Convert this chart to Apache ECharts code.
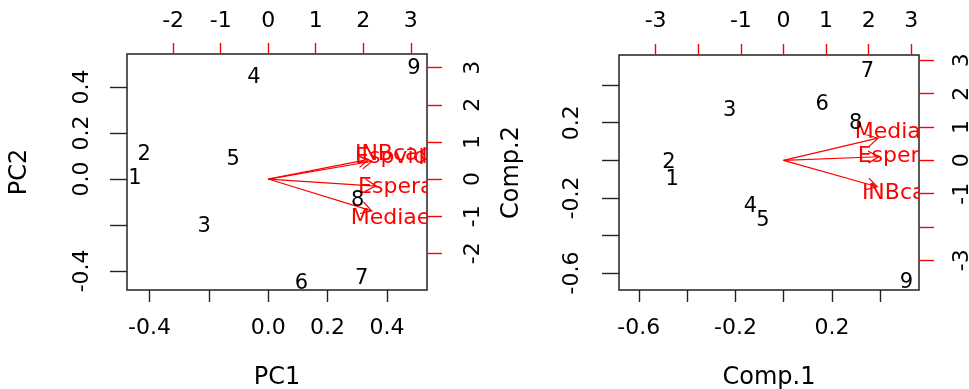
<!DOCTYPE html>
<html>
<head>
<meta charset="utf-8">
<script src="https://cdn.jsdelivr.net/npm/echarts@6/dist/echarts.min.js"></script>
<style>
  html, body { margin: 0; padding: 0; background: #ffffff; }
  #chart { width: 969px; height: 389px; }
</style>
</head>
<body>
<div id="chart"></div>
<script>
// ---- Biplot 1 (prcomp): observation scores ----
const obsLabels = ['1', '2', '3', '4', '5', '6', '7', '8', '9'];
const pc1 = [-0.449, -0.418, -0.216, -0.048, -0.118, 0.112, 0.315, 0.301, 0.491];
const pc2 = [0.000, 0.104, -0.207, 0.442, 0.086, -0.453, -0.432, -0.096, 0.481];

// variable loadings (label positions; arrows go to 0.8 of them)
const pcVars = ['INBcap', 'Espvida', 'Esperad', 'Mediaed'];
const pcLoad1 = [2.64, 2.73, 2.83, 2.72];
const pcLoad2 = [0.66, 0.60, -0.235, -1.07];

// ---- Biplot 2 (princomp) ----
const comp1 = [-0.462, -0.475, -0.224, -0.138, -0.086, 0.159, 0.347, 0.298, 0.508];
const comp2 = [-0.105, -0.011, 0.262, -0.247, -0.318, 0.298, 0.471, 0.197, -0.651];

const compVars = ['Mediaed', 'Esperad', 'INBcap'];
const compLoad1 = [2.77, 2.79, 2.75];
const compLoad2 = [0.83, 0.135, -0.99];

// ---- tick marks and tick labels ----
const pcXTicks = [-0.4, -0.2, 0, 0.2, 0.4];
const pcXLabels = [-0.4, 0, 0.2, 0.4];
const pcYTicks = [-0.4, -0.2, 0, 0.2, 0.4];
const pcYLabels = [-0.4, 0, 0.2, 0.4];
const pcLoadXTicks = [-2, -1, 0, 1, 2, 3];
const pcLoadYTicks = [-2, -1, 0, 1, 2, 3];

const compXTicks = [-0.6, -0.4, -0.2, 0, 0.2, 0.4];
const compXLabels = [-0.6, -0.2, 0.2];
const compYTicks = [-0.6, -0.4, -0.2, 0, 0.2, 0.4];
const compYLabels = [-0.6, -0.2, 0.2];
const compLoadXTicks = [-3, -2, -1, 0, 1, 2, 3];
const compLoadXLabels = [-3, -1, 0, 1, 2, 3];
const compLoadYTicks = [-3, -2, -1, 0, 1, 2, 3];
const compLoadYLabels = [-3, -1, 0, 1, 2, 3];

const FONT = '"DejaVu Sans", sans-serif';
const INK = '#000000';
const BOX = '#222222';
const RED = '#ff0000';
const TICK_TXT = 22;
const PT_TXT = 21;
const VAR_TXT = 22;

const fmt1 = v => (Math.abs(v) < 1e-9 ? 0 : v).toFixed(1);
const fmt0 = v => String(Math.round(v));

function axis(o) {
  const tickColor = o.red ? RED : BOX;
  const a = {
    type: 'value',
    gridIndex: o.grid,
    position: o.position,
    min: o.min,
    max: o.max,
    splitLine: { show: false },
    axisLine: { show: false, onZero: false },
    axisTick: {
      show: true,
      length: o.tickLen,
      customValues: o.ticks,
      lineStyle: { color: tickColor, width: 1.4 }
    },
    axisLabel: {
      show: true,
      customValues: o.labels,
      formatter: o.fmt,
      margin: o.margin,
      rotate: o.rotate || 0,
      fontSize: TICK_TXT,
      fontFamily: FONT,
      color: INK
    }
  };
  if (o.name) {
    a.name = o.name;
    a.nameLocation = 'middle';
    a.nameGap = o.nameGap;
    a.nameMoveOverlap = false;
    if (o.nameRotate !== undefined) a.nameRotate = o.nameRotate;
    a.nameTextStyle = { fontSize: 24, fontFamily: FONT, color: INK };
  }
  return a;
}

function scores(xi, yi, xs, ys) {
  return {
    type: 'scatter',
    xAxisIndex: xi,
    yAxisIndex: yi,
    silent: true,
    symbol: 'circle',
    symbolSize: 1,
    itemStyle: { color: 'rgba(255,255,255,0)', opacity: 1 },
    label: {
      show: true,
      position: 'inside',
      formatter: p => p.name,
      fontSize: PT_TXT,
      fontFamily: FONT,
      color: INK,
      opacity: 1,
      textBorderWidth: 0
    },
    data: obsLabels.map((n, i) => ({ name: n, value: [xs[i], ys[i]] }))
  };
}

function loadings(xi, yi, names, lx, ly) {
  return {
    type: 'custom',
    xAxisIndex: xi,
    yAxisIndex: yi,
    clip: true,
    silent: true,
    data: names.map((n, i) => [lx[i], ly[i]]),
    renderItem(params, api) {
      const x = api.value(0), y = api.value(1);
      const o = api.coord([0, 0]);
      const e = api.coord([x * 0.8, y * 0.8]);
      const t = api.coord([x, y]);
      const ang = Math.atan2(o[1] - e[1], o[0] - e[0]);
      const L = 12, a = Math.PI / 6;
      const h1 = [e[0] + L * Math.cos(ang + a), e[1] + L * Math.sin(ang + a)];
      const h2 = [e[0] + L * Math.cos(ang - a), e[1] + L * Math.sin(ang - a)];
      const st = { stroke: RED, lineWidth: 1.2, fill: null };
      return {
        type: 'group',
        children: [
          { type: 'line', shape: { x1: o[0], y1: o[1], x2: e[0], y2: e[1] }, style: st },
          { type: 'polyline', shape: { points: [h1, e, h2] }, style: st },
          {
            type: 'text', x: t[0], y: t[1],
            style: {
              text: names[params.dataIndex], fill: RED,
              fontSize: VAR_TXT, fontFamily: FONT,
              align: 'center', verticalAlign: 'middle'
            }
          }
        ]
      };
    }
  };
}

const chart = echarts.init(document.getElementById('chart'), null, { renderer: 'canvas' });

chart.setOption({
  animation: false,
  backgroundColor: '#ffffff',
  grid: [
    { left: 127, top: 54, width: 300, height: 236, show: true, borderColor: BOX, borderWidth: 1.5,
      backgroundColor: 'transparent', outerBoundsMode: 'none' },
    { left: 619, top: 55, width: 300, height: 235, show: true, borderColor: BOX, borderWidth: 1.5,
      backgroundColor: 'transparent', outerBoundsMode: 'none' }
  ],
  xAxis: [
    axis({ grid: 0, position: 'bottom', min: -0.476, max: 0.535, ticks: pcXTicks, labels: pcXLabels,
      fmt: fmt1, tickLen: 12, margin: 27, name: 'PC1', nameGap: 76 }),
    axis({ grid: 0, position: 'top', min: -2.97, max: 3.34, ticks: pcLoadXTicks, labels: pcLoadXTicks,
      fmt: fmt0, tickLen: 11, margin: 22, red: true }),
    axis({ grid: 1, position: 'bottom', min: -0.682, max: 0.560, ticks: compXTicks, labels: compXLabels,
      fmt: fmt1, tickLen: 12, margin: 27, name: 'Comp.1', nameGap: 76 }),
    axis({ grid: 1, position: 'top', min: -3.86, max: 3.18, ticks: compLoadXTicks, labels: compLoadXLabels,
      fmt: fmt0, tickLen: 11, margin: 23, red: true })
  ],
  yAxis: [
    axis({ grid: 0, position: 'left', min: -0.483, max: 0.543, ticks: pcYTicks, labels: pcYLabels,
      fmt: fmt1, tickLen: 17, margin: 34, rotate: 90, name: 'PC2', nameGap: 95, nameRotate: 90 }),
    axis({ grid: 0, position: 'right', min: -2.99, max: 3.37, ticks: pcLoadYTicks, labels: pcLoadYTicks,
      fmt: fmt0, tickLen: 15, margin: 35, rotate: 90, red: true }),
    axis({ grid: 1, position: 'left', min: -0.69, max: 0.56, ticks: compYTicks, labels: compYLabels,
      fmt: fmt1, tickLen: 17, margin: 36, rotate: 90, name: 'Comp.2', nameGap: 95, nameRotate: 90 }),
    axis({ grid: 1, position: 'right', min: -3.89, max: 3.16, ticks: compLoadYTicks, labels: compLoadYLabels,
      fmt: fmt0, tickLen: 15, margin: 32, rotate: 90, red: true })
  ],
  series: [
    scores(0, 0, pc1, pc2),
    loadings(1, 1, pcVars, pcLoad1, pcLoad2),
    scores(2, 2, comp1, comp2),
    loadings(3, 3, compVars, compLoad1, compLoad2)
  ]
});
</script>
</body>
</html>
